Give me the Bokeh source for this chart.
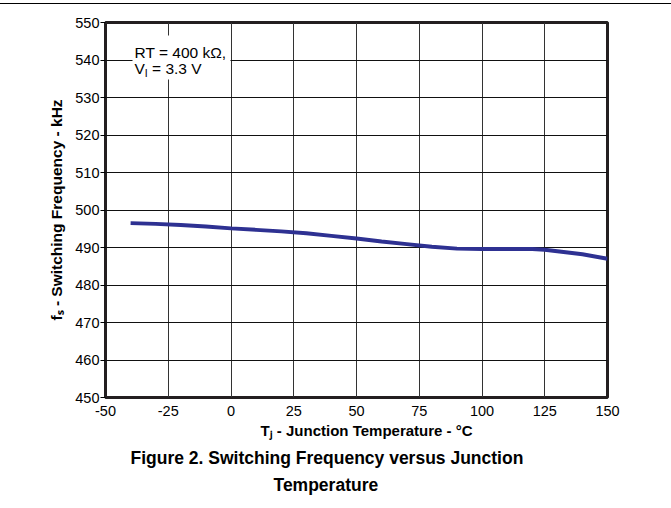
import math
from bokeh.plotting import figure
from bokeh.models import (Range1d, FixedTicker, Label, BoxAnnotation, Title,
                          GlobalInlineStyleSheet)
from bokeh.embed import file_html
from bokeh.resources import INLINE

# ---- data ----
temp_c = [-40, -30, -20, -10, 0, 10, 20, 30, 40, 50, 60, 70, 80, 90,
          100, 110, 120, 125, 130, 140, 150]
freq_khz = [496.5, 496.3, 496.0, 495.6, 495.1, 494.7, 494.3, 493.8, 493.1,
            492.4, 491.6, 490.9, 490.2, 489.7, 489.6, 489.6, 489.6, 489.4,
            489.0, 488.2, 487.0]
x_ticks = [-50, -25, 0, 25, 50, 75, 100, 125, 150]
y_ticks = [450, 460, 470, 480, 490, 500, 510, 520, 530, 540, 550]
x_label = "T\u2c7c - Junction Temperature - \u00b0C"
y_label = "f\u209b - Switching Frequency - kHz"
caption = ["Figure 2. Switching Frequency versus Junction", "Temperature"]

X0, X1 = -50, 150
Y0, Y1 = 450, 550

# ---- layout (canvas pixels) ----
W, H = 671, 508
FL, FR, FT, FB = 105, 607, 22, 397


def px_x(px):
    return X0 + (px - FL) * (X1 - X0) / (FR - FL)


def px_y(py):
    return Y0 + (FB - py) * (Y1 - Y0) / (FB - FT)


FONT = "Liberation Sans"

p = figure(width=W, height=H, output_backend="svg", toolbar_location=None,
           x_range=Range1d(X0, X1), y_range=Range1d(Y0, Y1),
           min_border_left=FL, min_border_right=W - FR,
           min_border_top=FT, min_border_bottom=H - FB)
p.background_fill_color = "white"
p.border_fill_color = "white"
p.outline_line_color = "#231f20"
p.outline_line_width = 3

p.xaxis.ticker = FixedTicker(ticks=x_ticks)
p.yaxis.ticker = FixedTicker(ticks=y_ticks)
p.xaxis.major_label_overrides = {t: str(t) for t in x_ticks}
for ax in (p.xaxis[0], p.yaxis[0]):
    ax.axis_line_color = None
    ax.minor_tick_line_color = None
    ax.major_tick_in = 0
    ax.major_label_text_font = FONT
    ax.major_label_text_font_size = "14.5px"
    ax.major_label_text_color = "black"
    ax.major_tick_line_color = "black"
    ax.axis_label_text_font = FONT
    ax.axis_label_text_font_style = "bold"
    ax.axis_label_text_color = "black"
p.xaxis.major_tick_out = 0
p.xaxis.major_label_standoff = 8
p.yaxis.major_tick_out = 5
p.yaxis.major_label_standoff = 1
p.yaxis.axis_label = y_label
p.yaxis.axis_label_text_font_size = "15.5px"
p.yaxis.axis_label_standoff = 7

p.xgrid.grid_line_color = "#333333"
p.ygrid.grid_line_color = "#111111"
p.xgrid.grid_line_width = 1
p.ygrid.grid_line_width = 1

p.line(temp_c, freq_khz, line_color="#2E3192", line_width=4)

# annotation box
p.add_layout(BoxAnnotation(left=px_x(132), right=px_x(230), top=px_y(35),
                           bottom=px_y(79), fill_color="white", fill_alpha=1,
                           line_color=None))


def lab(text, x, y, size):
    p.add_layout(Label(x=px_x(x), y=px_y(y), text=text, text_font=FONT,
                       text_font_size=f"{size}px", text_align="left",
                       text_baseline="alphabetic", text_color="black"))


lab("RT = 400 k\u03a9,", 134, 52, 15.5)
lab("V", 134, 68, 15.5)
lab("I", 134 + 0.667 * 15.5, 72, 10.5)
lab("= 3.3 V", 134 + 0.667 * 15.5 + 0.278 * 10.5 + 0.278 * 15.5, 68, 15.5)

# x axis label and caption as titles below the axis
p.add_layout(Title(text=x_label, align="left", offset=260 - FL,
                   text_font=FONT, text_font_size="15px",
                   text_font_style="bold", text_color="black", standoff=2),
             "below")
cap_w = [22.451 * 17.5, 6.057 * 17.5]
cap_standoff = [13, -4]
for i, line in enumerate(caption):
    p.add_layout(Title(text=line, align="left",
                       offset=round(326 - cap_w[i] / 2 - FL),
                       text_font=FONT, text_font_size="17.5px",
                       text_font_style="bold", text_color="black",
                       standoff=cap_standoff[i]), "below")

p.stylesheets = [GlobalInlineStyleSheet(css=(
    "body::after{content:'';position:fixed;left:0;width:100%;top:3px;"
    "height:0;border-top:1.5px solid #000;z-index:1000;}"))]

open("out.html", "w").write(file_html(p, INLINE))
